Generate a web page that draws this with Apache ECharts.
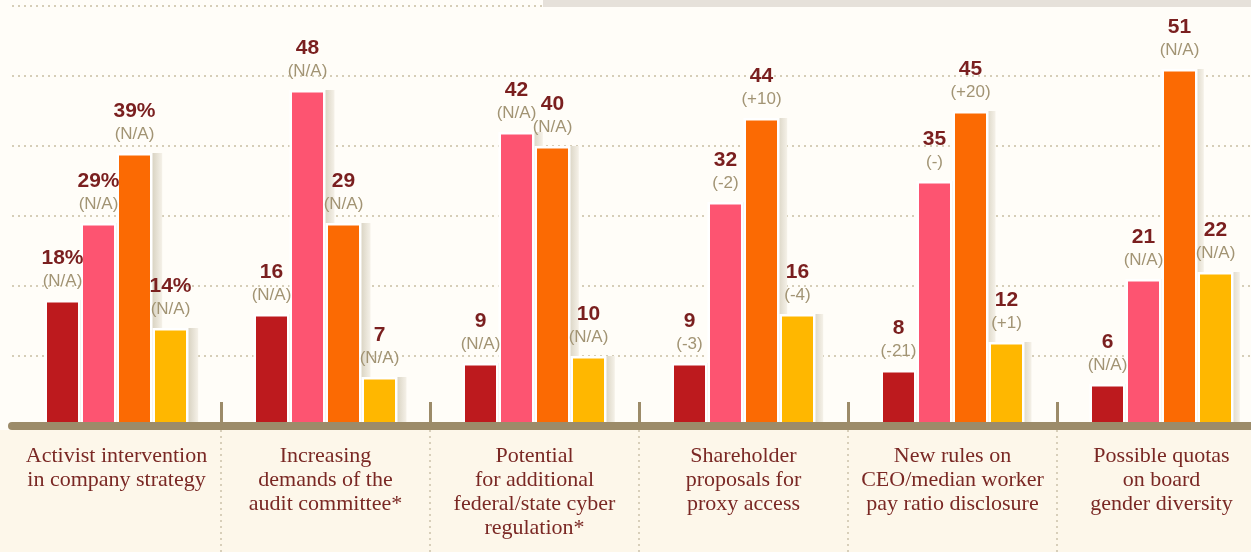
<!DOCTYPE html>
<html>
<head>
    <meta charset="utf-8">
    <title>ECharts</title>
    <script src="https://cdn.jsdelivr.net/npm/echarts@6/dist/echarts.min.js"></script>
    <style>
        html, body { margin: 0; padding: 0; background: #fdf7ea; overflow: hidden; }
        #main {
            background: linear-gradient(to bottom, #fffdf8 0, #fffdf8 430px, #fdf7ea 430px, #fdf7ea 100%);
        }
    </style>
</head>
<body>
    <!-- a bit wider than the window: the last group runs off the right edge, as in the source -->
    <div id="main" style="width: 1272px;height:552px;"></div>
    <script type="text/javascript">
        var myChart = echarts.init(document.getElementById('main'));

        // categories (x axis)
        var categories = [
            'Activist intervention\nin company strategy',
            'Increasing\ndemands of the\naudit committee*',
            'Potential\nfor additional\nfederal/state cyber\nregulation*',
            'Shareholder\nproposals for\nproxy access',
            'New rules on\nCEO/median worker\npay ratio disclosure',
            'Possible quotas\non board\ngender diversity'
        ];

        // four series, one value per category
        var values1 = [18, 16, 9, 9, 8, 6];
        var values2 = [29, 48, 42, 32, 35, 21];
        var values3 = [39, 29, 40, 44, 45, 51];
        var values4 = [14, 7, 10, 16, 12, 22];

        // change vs previous year, shown under the value
        var change1 = ['N/A', 'N/A', 'N/A', '-3', '-21', 'N/A'];
        var change2 = ['N/A', 'N/A', 'N/A', '-2', '-', 'N/A'];
        var change3 = ['N/A', 'N/A', 'N/A', '+10', '+20', 'N/A'];
        var change4 = ['N/A', 'N/A', 'N/A', '-4', '+1', 'N/A'];

        // first group is shown in percent
        var valueSuffix = ['%', '', '', '', '', ''];

        var colors = ['#bd1a1e', '#fd5471', '#fb6a03', '#ffb700'];

        function makeSeries(vals, changes, color) {
            return {
                type: 'bar',
                data: vals,
                z: 3,
                barWidth: 36,
                barGap: '0%',
                itemStyle: {
                    color: color,
                    borderColor: '#ffffff',
                    borderWidth: 2.5
                },
                label: {
                    show: true,
                    position: 'top',
                    distance: 8,
                    formatter: function (p) {
                        return '{v|' + p.value + valueSuffix[p.dataIndex] + '}\n{c|(' + changes[p.dataIndex] + ')}';
                    },
                    rich: {
                        v: {
                            fontFamily: 'Liberation Sans',
                            fontWeight: 'bold',
                            fontSize: 21,
                            color: '#7a1f1f',
                            lineHeight: 25,
                            align: 'center'
                        },
                        c: {
                            fontFamily: 'Liberation Sans',
                            fontSize: 17,
                            color: '#a29474',
                            lineHeight: 21,
                            align: 'center'
                        }
                    }
                }
            };
        }

        // same bars drawn in a second grid shifted right, acting as the drop shadow
        function makeShadow(vals) {
            return {
                type: 'bar',
                data: vals,
                xAxisIndex: 1,
                yAxisIndex: 1,
                z: 1,
                silent: true,
                barWidth: 36,
                barGap: '0%',
                itemStyle: {
                    color: {
                        type: 'linear', x: 0, y: 0, x2: 1, y2: 0,
                        colorStops: [
                            { offset: 0, color: '#d8d2c1' },
                            { offset: 0.72, color: '#d8d2c1' },
                            { offset: 1, color: '#f5f1e8' }
                        ]
                    }
                }
            };
        }

        var option = {
            backgroundColor: 'transparent',
            animation: false,
            graphic: [
                {
                    type: 'rect',
                    z: 100,
                    shape: { x: 543, y: 0, width: 729, height: 7 },
                    style: { fill: '#e6e1da' }
                }
            ],
            grid: [
                { left: 12, top: 6, width: 1254, height: 420 },
                { left: 22, top: 6, width: 1254, height: 420 },
                // strip under the axis, holds the dotted separators
                { left: 12, top: 430, width: 1254, height: 122 }
            ],
            xAxis: [
                {
                    type: 'category',
                    data: categories,
                    z: 5,
                    axisLine: {
                        lineStyle: { color: '#9c8b69', width: 8 }
                    },
                    axisTick: {
                        show: true,
                        inside: true,
                        length: 24,
                        interval: function (i) { return i > 0; },
                        lineStyle: { color: '#9c8b69', width: 3 }
                    },
                    axisLabel: {
                        interval: 0,
                        margin: 18,
                        fontFamily: 'Liberation Serif',
                        fontSize: 22,
                        lineHeight: 24,
                        color: '#7a2824'
                    }
                },
                {
                    type: 'category',
                    gridIndex: 1,
                    data: categories,
                    show: false
                },
                {
                    type: 'category',
                    gridIndex: 2,
                    data: categories,
                    axisLine: { show: false },
                    axisTick: { show: false },
                    axisLabel: { show: false },
                    splitLine: {
                        show: true,
                        interval: function (i) { return i > 0; },
                        lineStyle: { color: '#cbc2aa', width: 1.5, type: [2, 4] }
                    }
                }
            ],
            yAxis: [
                {
                    type: 'value',
                    min: 0,
                    max: 60,
                    interval: 10,
                    axisLine: { show: false },
                    axisTick: { show: false },
                    axisLabel: { show: false },
                    splitLine: {
                        lineStyle: { color: '#d6ceb8', width: 2, type: [2, 4] }
                    }
                },
                {
                    type: 'value',
                    gridIndex: 1,
                    min: 0,
                    max: 60,
                    interval: 10,
                    show: false,
                    splitLine: { show: false }
                },
                {
                    type: 'value',
                    gridIndex: 2,
                    show: false,
                    splitLine: { show: false }
                }
            ],
            series: [
                makeShadow(values1),
                makeShadow(values2),
                makeShadow(values3),
                makeShadow(values4),
                makeSeries(values1, change1, colors[0]),
                makeSeries(values2, change2, colors[1]),
                makeSeries(values3, change3, colors[2]),
                makeSeries(values4, change4, colors[3])
            ]
        };

        myChart.setOption(option);
    </script>
</body>
</html>
